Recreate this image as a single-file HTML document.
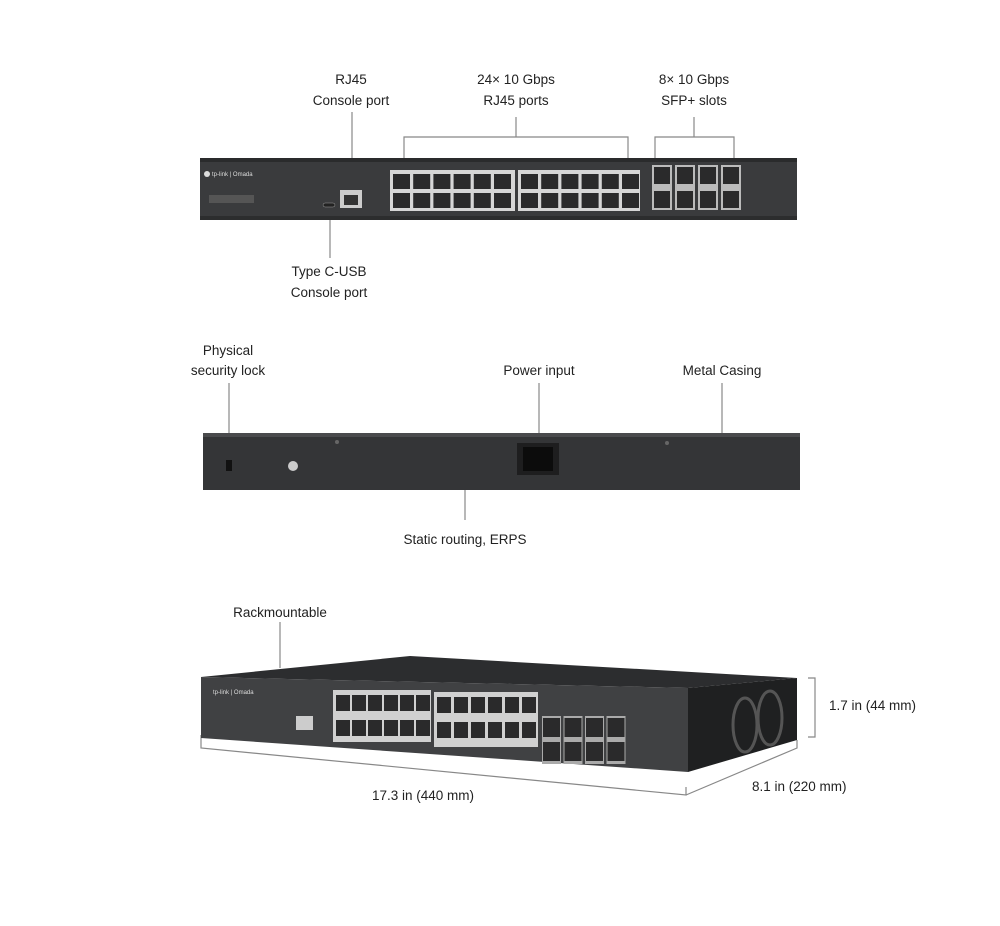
<!DOCTYPE html><html><head><meta charset="utf-8"><style>
html,body{margin:0;padding:0;background:#fff}
svg{display:block}
text{font-family:"Liberation Sans",sans-serif;font-size:13.5px;fill:#222}
</style></head><body>
<svg id="s" width="1000" height="926" viewBox="0 0 1000 926" xmlns="http://www.w3.org/2000/svg">
<rect width="1000" height="926" fill="#fff"/>
<g text-anchor="middle">
<text x="351" y="84">RJ45</text><text x="351" y="105">Console port</text>
<text x="516" y="84">24× 10 Gbps</text><text x="516" y="105">RJ45 ports</text>
<text x="694" y="84">8× 10 Gbps</text><text x="694" y="105">SFP+ slots</text>
<text x="329" y="276">Type C-USB</text><text x="329" y="297">Console port</text>
<text x="228" y="355">Physical</text><text x="228" y="375">security lock</text>
<text x="539" y="375">Power input</text><text x="722" y="375">Metal Casing</text>
<text x="465" y="544">Static routing, ERPS</text>
<text x="280" y="617">Rackmountable</text>
<text x="423" y="800">17.3  in (440 mm)</text>
</g>
<text x="752" y="791">8.1  in (220 mm)</text>
<text x="829" y="710">1.7 in (44 mm)</text>
<g stroke="#888" stroke-width="1.2" fill="none">
<path d="M352 112V195M330 210V258M404 160V137H628V160M516 137V117M655 160V137H734V160M694 137V117"/>
<path d="M229 383V462M539 383V443M722 383V433M465 490V520M280 622V668"/>
<path d="M201 735V748L686 795V787M686 795L797 748V740M808 678H815V737H808"/>
</g>
<!-- front panel -->
<rect x="200" y="158" width="597" height="62" fill="#3a3b3d"/>
<rect x="200" y="158" width="597" height="4" fill="#2a2b2c"/>
<rect x="200" y="216" width="597" height="4" fill="#2c2d2e"/>
<text x="212" y="176" style="font-size:6px;fill:#ddd">tp-link | Omada</text>
<circle cx="207" cy="174" r="3" fill="#ddd"/>
<rect x="209" y="195" width="45" height="8" fill="#555"/>
<rect x="340" y="190" width="22" height="18" fill="#ccc"/><rect x="344" y="195" width="14" height="10" fill="#333"/>
<rect x="323" y="203" width="12" height="4" rx="2" fill="#222" stroke="#999" stroke-width=".5"/>
<g id="fp"></g>
<!-- rear -->
<rect x="203" y="433" width="597" height="57" fill="#343537"/>
<rect x="203" y="433" width="597" height="4" fill="#4a4b4d"/>
<rect x="226" y="460" width="6" height="11" fill="#111"/>
<circle cx="293" cy="466" r="5" fill="#ccc"/>
<rect x="517" y="443" width="42" height="32" fill="#1e1e1f"/>
<rect x="523" y="447" width="30" height="24" fill="#0c0c0c"/>
<circle cx="337" cy="442" r="2" fill="#666"/><circle cx="667" cy="443" r="2" fill="#666"/>
<!-- 3D -->
<polygon points="201,677 410,656 797,678 688,688" fill="#2c2d2f"/>
<polygon points="688,688 797,678 797,740 688,772" fill="#1f2021"/>
<polygon points="201,677 688,688 688,772 201,738" fill="#404143"/>
<ellipse cx="745" cy="725" rx="12" ry="27" fill="none" stroke="#555" stroke-width="3"/>
<ellipse cx="770" cy="718" rx="12" ry="27" fill="none" stroke="#555" stroke-width="3"/>
<text x="213" y="694" style="font-size:6px;fill:#ddd">tp-link | Omada</text>
<rect x="296" y="716" width="17" height="14" fill="#ccc"/>
<g id="tp"></g>
</svg>
<script>
var ns="http://www.w3.org/2000/svg";
function r(g,x,y,w,h,f){var e=document.createElementNS(ns,"rect");e.setAttribute("x",x);e.setAttribute("y",y);e.setAttribute("width",w);e.setAttribute("height",h);e.setAttribute("fill",f);document.getElementById(g).appendChild(e);}
// front
r("fp",390,170,125,41,"#d6d6d6");r("fp",518,170,122,41,"#d6d6d6");
for(var b=0;b<2;b++)for(var i=0;i<6;i++)for(var j=0;j<2;j++){var x=(b?521:393)+i*20.2,y=174+j*19;r("fp",x,y,17,15,"#2a2a2b");}
for(var k=0;k<4;k++){var x=652+k*23;r("fp",x,165,20,45,"#bbb");r("fp",x+2,167,16,17,"#2a2a2b");r("fp",x+2,191,16,17,"#2a2a2b");}
// 3d
r("tp",333,690,98,52,"#d0d0d0");r("tp",434,692,104,55,"#d0d0d0");
for(var b=0;b<2;b++)for(var i=0;i<6;i++)for(var j=0;j<2;j++){var x=(b?437:336)+i*(b?17:16),y=(b?697:695)+j*25;r("tp",x,y,14,16,"#2a2a2b");}
for(var k=0;k<4;k++){var x=542+k*21.5;r("tp",x,716-0,19,48,"#aaa");r("tp",x+1,718,17,19,"#2a2a2b");r("tp",x+1,742,17,19,"#2a2a2b");}
</script>
</body></html>
